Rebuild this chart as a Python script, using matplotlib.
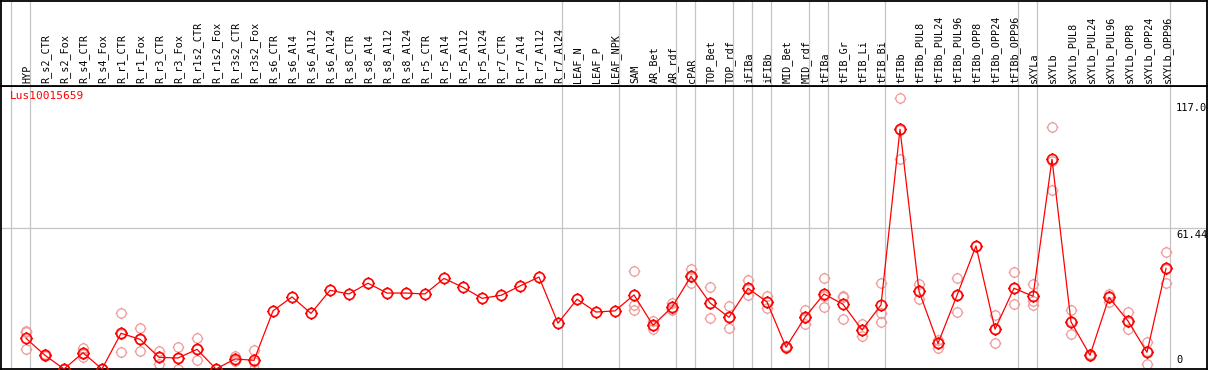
import matplotlib
matplotlib.use('Agg')
import matplotlib.pyplot as plt
import matplotlib.transforms as mtransforms
from matplotlib.path import Path

# sample names (left to right)
samples = ['HYP', 'R_s2_CTR', 'R_s2_Fox', 'R_s4_CTR', 'R_s4_Fox', 'R_r1_CTR', 'R_r1_Fox',
           'R_r3_CTR', 'R_r3_Fox', 'R_r1s2_CTR', 'R_r1s2_Fox', 'R_r3s2_CTR', 'R_r3s2_Fox',
           'R_s6_CTR', 'R_s6_Al4', 'R_s6_Al12', 'R_s6_Al24', 'R_s8_CTR', 'R_s8_Al4', 'R_s8_Al12',
           'R_s8_Al24', 'R_r5_CTR', 'R_r5_Al4', 'R_r5_Al12', 'R_r5_Al24', 'R_r7_CTR', 'R_r7_Al4',
           'R_r7_Al12', 'R_r7_Al24', 'LEAF_N', 'LEAF_P', 'LEAF_NPK', 'SAM', 'AR_Bet', 'AR_rdf',
           'cPAR', 'TOP_Bet', 'TOP_rdf', 'iFIBa', 'iFIBb', 'MID_Bet', 'MID_rdf', 'tFIBa',
           'tFIB_Gr', 'tFIB_Li', 'tFIB_Bi', 'tFIBb', 'tFIBb_PUL8', 'tFIBb_PUL24', 'tFIBb_PUL96',
           'tFIBb_OPP8', 'tFIBb_OPP24', 'tFIBb_OPP96', 'sXYLa', 'sXYLb', 'sXYLb_PUL8',
           'sXYLb_PUL24', 'sXYLb_PUL96', 'sXYLb_OPP8', 'sXYLb_OPP24', 'sXYLb_OPP96']

# number of samples in each group (separated by gray lines)
group_sizes = [1, 28, 3, 3, 1, 2, 1, 1, 2, 1, 3, 7, 1, 7]

# mean expression per sample
means = [13.4, 6.0, 0.0, 7.1, 0.0, 15.6, 13.0, 5.1, 4.8, 8.6, 0.0, 4.4, 3.8,
         25.4, 31.5, 24.3, 34.4, 32.8, 37.5, 33.2, 33.2, 32.8, 39.6, 35.7, 30.9,
         32.2, 36.3, 40.2, 20.0, 30.5, 24.9, 25.4, 32.4, 19.1, 27.0, 40.5, 28.9,
         22.6, 35.3, 29.3, 9.5, 22.6, 32.8, 28.3, 17.1, 28.0, 104.8, 34.0, 11.2,
         32.2, 53.8, 17.4, 35.3, 31.8, 91.7, 20.6, 6.0, 31.3, 21.0, 7.3, 44.0]

# replicate values per sample (empty = single measurement)
replicates = [
    [16.7, 16.0, 8.6], [6.5, 5.5, 6.0], [0.0, 0.0, 0.0], [9.3, 5.4, 6.6], [0.0, 0.0, 0.0],
    [24.3, 7.3, 15.2], [17.8, 7.9, 13.3], [7.9, 2.0, 5.4], [9.6, 0.0, 4.8], [13.4, 3.8, 8.6],
    [0.0, 0.0, 0.0], [5.8, 3.4, 4.0], [8.3, 0.0, 3.1],
    [], [], [], [], [], [], [], [], [], [], [], [], [], [], [], [], [], [], [],
    [42.7, 28.0, 25.8], [21.1, 17.6, 18.6], [28.8, 25.9, 26.3], [43.7, 37.5, 40.3],
    [35.7, 22.2, 28.8], [27.4, 17.8, 22.6], [38.8, 32.2, 34.9], [31.9, 26.5, 29.5],
    [10.2, 9.0, 9.3], [25.8, 19.5, 22.5], [39.6, 27.0, 31.8], [31.8, 31.3, 21.7],
    [19.5, 14.6, 17.2], [37.5, 24.6, 20.7], [118.4, 91.7, 104.3], [37.2, 30.7, 34.1],
    [12.8, 9.3, 11.5], [39.6, 24.8, 32.2], [53.8], [23.5, 11.2, 17.5], [42.3, 28.3, 35.3],
    [37.2, 29.9, 28.0], [105.7, 78.3, 91.1], [25.8, 15.2, 20.8], [6.5, 5.5, 6.0],
    [32.8, 32.0, 29.1], [24.9, 17.4, 20.7], [11.9, 2.0, 8.0], [51.0, 37.5, 43.5],
]

gene = 'Lus10015659'
ytick_vals = [0, 61.44, 117.0]
ytick_labels = ['0', '61.44', '117.0']

MONO = 'DejaVu Sans Mono'
GRID = '#c4c4c4'

# circle marker with small ticks at N/S/E/W
circ = Path.unit_circle()
verts = list(circ.vertices)
codes = list(circ.codes)
for dx, dy in [(0, 1), (0, -1), (1, 0), (-1, 0)]:
    verts += [(dx * 1.0, dy * 1.0), (dx * 1.25, dy * 1.25)]
    codes += [Path.MOVETO, Path.LINETO]
tick_circle = Path(verts, codes)

W, H = 1209, 370
fig = plt.figure(figsize=(W / 100, H / 100), dpi=100)
ax = fig.add_axes([1 / W, 1 / H, 1206 / W, 283 / H])
hx = fig.add_axes([1 / W, 284 / H, 1206 / W, 85 / H], sharex=ax)

x = list(range(len(samples)))
xlim = ((1 - 26) / 19, (1207 - 26) / 19)

# group separators
bounds = [-1]
c = 0
for s in group_sizes:
    c += s
    bounds.append(c - 1)
for a in (ax, hx):
    for b in bounds:
        a.axvline(b + 0.21, color=GRID, lw=0.9, zorder=0)

ax.axhline(ytick_vals[1], color=GRID, lw=0.9, zorder=0)

# replicates
for i, reps in enumerate(replicates):
    if reps:
        ax.plot([i] * len(reps), reps, linestyle='none', marker=tick_circle, markersize=8.4,
                mfc='none', mec='#ef9a9a', mew=0.9, zorder=2)

ax.plot(x, means, color='red', lw=0.9, marker=tick_circle, markersize=9.0,
        mfc='none', mec='red', mew=1.2, zorder=3)

ax.set_xlim(*xlim)
ax.set_ylim(0, 123.7)
ax.set_xticks([])
ax.set_yticks([])
hx.set_yticks([])
hx.set_ylim(0, 1)
hx.tick_params(axis='x', bottom=False, labelbottom=False)

for a in (ax, hx):
    for sp in a.spines.values():
        sp.set_color('black')
        sp.set_linewidth(1.3)

# sample labels in header
htrans = mtransforms.blended_transform_factory(hx.transData, hx.transAxes)
for i, name in enumerate(samples):
    hx.text(i + 0.05, 0.04, name, transform=htrans, rotation=90, ha='center', va='bottom',
            fontsize=7.3, family=MONO)

# value labels on the right
ytrans = mtransforms.blended_transform_factory(ax.transAxes, ax.transData)
lx = (1176 - 1) / 1206
for v, lab in zip(ytick_vals, ytick_labels):
    if v == 0:
        ax.text(lx, 1.6, lab, transform=ytrans, ha='left', va='bottom', fontsize=7.5, family=MONO)
    else:
        ax.text(lx, v - 0.6, lab, transform=ytrans, ha='left', va='top', fontsize=7.5, family=MONO)

ax.text(9 / 1206, 0.982, gene, transform=ax.transAxes, ha='left', va='top', color='red',
        fontsize=8, family=MONO)

fig.savefig('out.png', dpi=100)
